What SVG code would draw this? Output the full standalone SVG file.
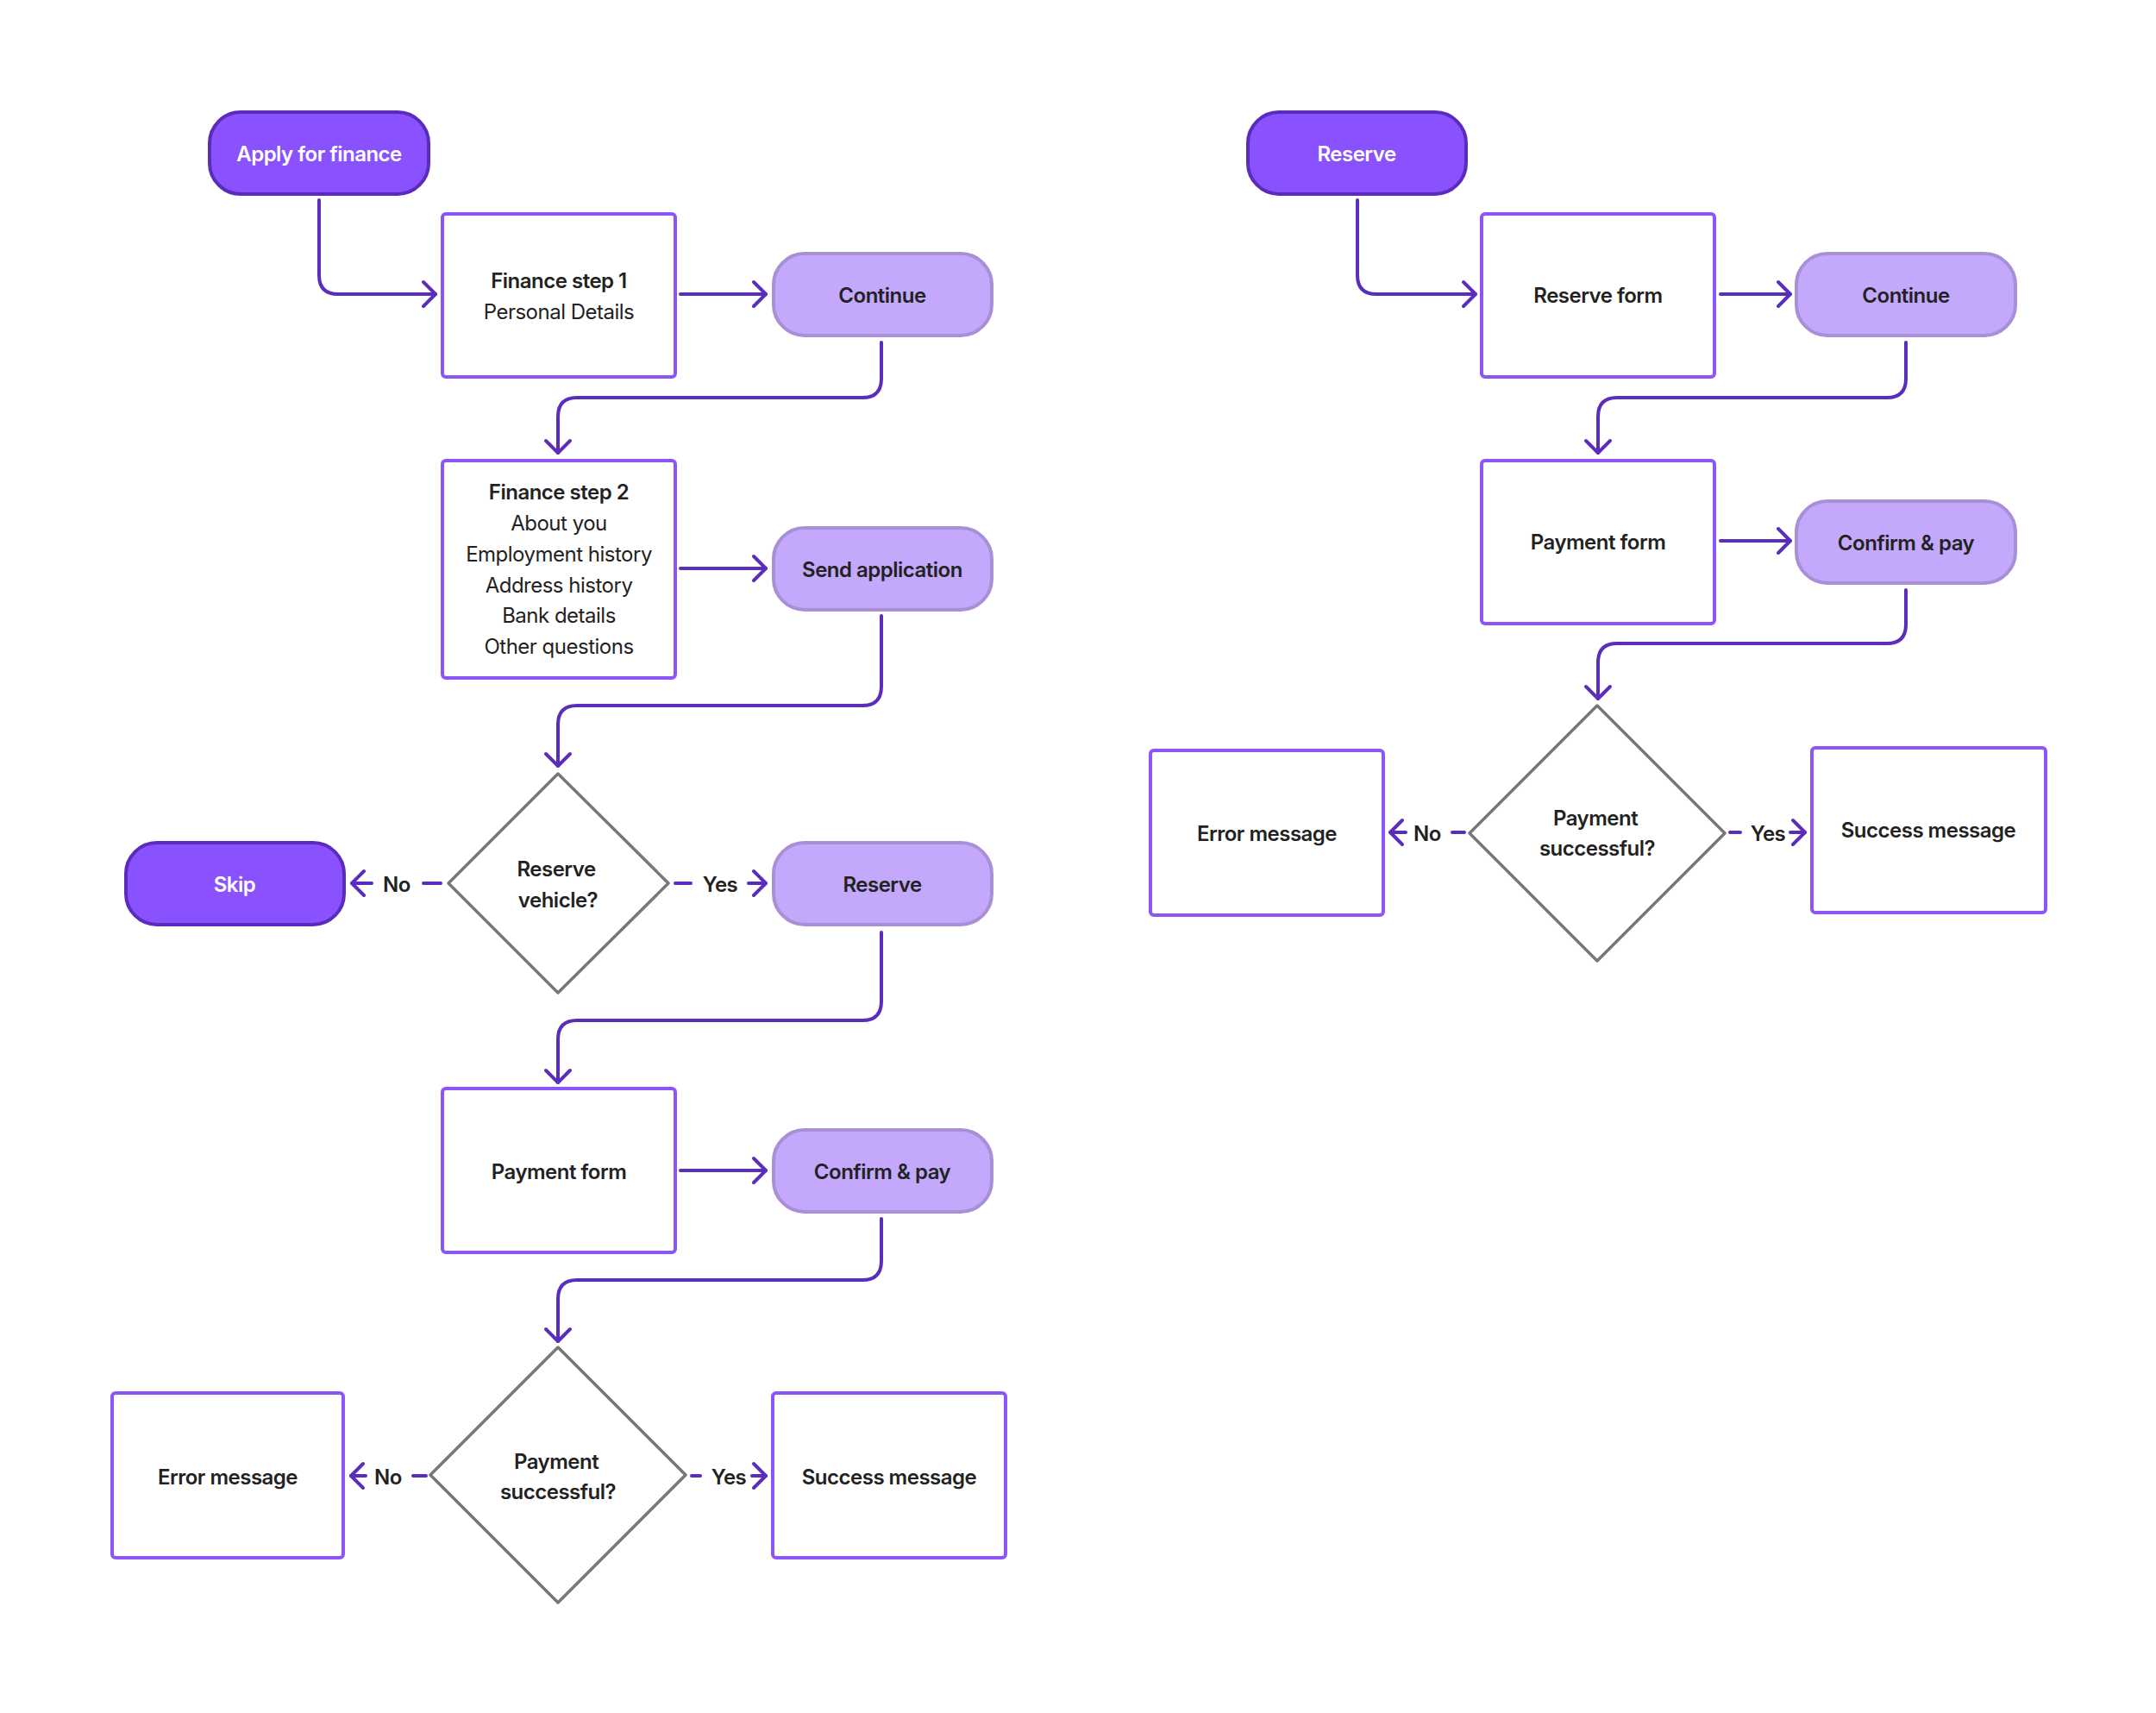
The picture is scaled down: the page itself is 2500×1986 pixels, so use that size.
<svg xmlns="http://www.w3.org/2000/svg" width="2500" height="1986" viewBox="0 0 2500 1986">
<defs>
<style>
text{font-family:Inter,"Noto Sans","Liberation Sans",sans-serif;font-size:24px;fill:#222;text-anchor:middle;letter-spacing:-0.5px}
.b{font-weight:600}
.w{fill:#fff;font-weight:600}
.start{fill:#8a52ff;stroke:#5a2bbd;stroke-width:4}
.act{fill:#c3a8fc;stroke:#a88fd6;stroke-width:4}
.box{fill:#fff;stroke:#8b55f8;stroke-width:4}
.dia{fill:#fff;stroke:#777;stroke-width:3.5;stroke-linejoin:round}
.c{fill:none;stroke:#5a2dbc;stroke-width:4;stroke-linecap:round;stroke-linejoin:round}
</style>
<marker id="ah" markerUnits="userSpaceOnUse" viewBox="-18 -18 24 36" markerWidth="24" markerHeight="36" refX="0" refY="0" orient="auto">
<path d="M-14,-14 L0,0 L-14,14" fill="none" stroke="#5a2dbc" stroke-width="4" stroke-linecap="round" stroke-linejoin="round"/>
</marker>
</defs>
<rect width="2500" height="1986" fill="#fff"/>

<g id="connectors">
<path class="c" marker-end="url(#ah)" d="M370,232 V319 Q370,341 392,341 H505"/>
<path class="c" marker-end="url(#ah)" d="M789,341 H888"/>
<path class="c" marker-end="url(#ah)" d="M1022,397 V439 Q1022,461 1000,461 H669 Q647,461 647,483 V525"/>
<path class="c" marker-end="url(#ah)" d="M789,659 H888"/>
<path class="c" marker-end="url(#ah)" d="M1022,714 V796 Q1022,818 1000,818 H669 Q647,818 647,840 V888"/>
<path class="c" d="M511,1024 H491"/>
<path class="c" marker-end="url(#ah)" d="M431,1024 H408"/>
<path class="c" d="M783,1024 H801"/>
<path class="c" marker-end="url(#ah)" d="M868,1024 H888"/>
<path class="c" marker-end="url(#ah)" d="M1022,1081 V1161 Q1022,1183 1000,1183 H669 Q647,1183 647,1205 V1255"/>
<path class="c" marker-end="url(#ah)" d="M789,1357 H888"/>
<path class="c" marker-end="url(#ah)" d="M1022,1413 V1462 Q1022,1484 1000,1484 H669 Q647,1484 647,1506 V1555"/>
<path class="c" d="M494,1711 H479"/>
<path class="c" marker-end="url(#ah)" d="M424,1711 H407"/>
<path class="c" d="M802,1711 H812"/>
<path class="c" marker-end="url(#ah)" d="M872,1711 H888"/>

<path class="c" marker-end="url(#ah)" d="M1574,232 V319 Q1574,341 1596,341 H1711"/>
<path class="c" marker-end="url(#ah)" d="M1995,341 H2076"/>
<path class="c" marker-end="url(#ah)" d="M2210,397 V439 Q2210,461 2188,461 H1875 Q1853,461 1853,483 V525"/>
<path class="c" marker-end="url(#ah)" d="M1995,627 H2076"/>
<path class="c" marker-end="url(#ah)" d="M2210,684 V724 Q2210,746 2188,746 H1875 Q1853,746 1853,768 V810"/>
<path class="c" d="M1698,965 H1684"/>
<path class="c" marker-end="url(#ah)" d="M1630,965 H1612"/>
<path class="c" d="M2006,965 H2018"/>
<path class="c" marker-end="url(#ah)" d="M2076,965 H2093"/>
</g>

<g id="labels">
<text class="b" x="460" y="1034">No</text>
<text class="b" x="835" y="1034">Yes</text>
<text class="b" x="450" y="1721">No</text>
<text class="b" x="845" y="1721">Yes</text>
<text class="b" x="1655" y="975">No</text>
<text class="b" x="2050" y="975">Yes</text>
</g>

<g id="apply-for-finance">
<rect class="start" x="243" y="130" width="254" height="95" rx="36"/>
<text class="w" x="370" y="187">Apply for finance</text>
</g>
<g id="finance-step-1">
<rect class="box" x="513" y="248" width="270" height="189" rx="4"/>
<text class="b" x="648" y="334">Finance step 1</text>
<text x="648" y="370">Personal Details</text>
</g>
<g id="continue-1">
<rect class="act" x="897" y="294" width="253" height="95" rx="36"/>
<text class="b" x="1023" y="351">Continue</text>
</g>
<g id="finance-step-2">
<rect class="box" x="513" y="534" width="270" height="252" rx="4"/>
<text class="b" x="648" y="579">Finance step 2</text>
<text x="648" y="615">About you</text>
<text x="648" y="651">Employment history</text>
<text x="648" y="687">Address history</text>
<text x="648" y="722">Bank details</text>
<text x="648" y="758">Other questions</text>
</g>
<g id="send-application">
<rect class="act" x="897" y="612" width="253" height="95" rx="36"/>
<text class="b" x="1023" y="669">Send application</text>
</g>
<g id="reserve-vehicle">
<polygon class="dia" points="647,897 775,1024 647,1151 520,1024"/>
<text class="b" x="645" y="1016">Reserve</text>
<text class="b" x="647" y="1052">vehicle?</text>
</g>
<g id="skip">
<rect class="start" x="146" y="977" width="253" height="95" rx="36"/>
<text class="w" x="272" y="1034">Skip</text>
</g>
<g id="reserve-1">
<rect class="act" x="897" y="977" width="253" height="95" rx="36"/>
<text class="b" x="1023" y="1034">Reserve</text>
</g>
<g id="payment-form-1">
<rect class="box" x="513" y="1262" width="270" height="190" rx="4"/>
<text class="b" x="648" y="1367">Payment form</text>
</g>
<g id="confirm-pay-1">
<rect class="act" x="897" y="1310" width="253" height="95" rx="36"/>
<text class="b" x="1023" y="1367">Confirm &amp; pay</text>
</g>
<g id="payment-successful-1">
<polygon class="dia" points="647,1562 795,1710 647,1858 499,1710"/>
<text class="b" x="645" y="1703">Payment</text>
<text class="b" x="647" y="1738">successful?</text>
</g>
<g id="error-message-1">
<rect class="box" x="130" y="1615" width="268" height="191" rx="4"/>
<text class="b" x="264" y="1721">Error message</text>
</g>
<g id="success-message-1">
<rect class="box" x="896" y="1615" width="270" height="191" rx="4"/>
<text class="b" x="1031" y="1721">Success message</text>
</g>

<g id="reserve-2">
<rect class="start" x="1447" y="130" width="253" height="95" rx="36"/>
<text class="w" x="1573" y="187">Reserve</text>
</g>
<g id="reserve-form">
<rect class="box" x="1718" y="248" width="270" height="189" rx="4"/>
<text class="b" x="1853" y="351">Reserve form</text>
</g>
<g id="continue-2">
<rect class="act" x="2083" y="294" width="254" height="95" rx="36"/>
<text class="b" x="2210" y="351">Continue</text>
</g>
<g id="payment-form-2">
<rect class="box" x="1718" y="534" width="270" height="189" rx="4"/>
<text class="b" x="1853" y="637">Payment form</text>
</g>
<g id="confirm-pay-2">
<rect class="act" x="2083" y="581" width="254" height="95" rx="36"/>
<text class="b" x="2210" y="638">Confirm &amp; pay</text>
</g>
<g id="payment-successful-2">
<polygon class="dia" points="1852,818 2000,966 1852,1114 1704,966"/>
<text class="b" x="1850" y="957">Payment</text>
<text class="b" x="1852" y="992">successful?</text>
</g>
<g id="error-message-2">
<rect class="box" x="1334" y="870" width="270" height="191" rx="4"/>
<text class="b" x="1469" y="975">Error message</text>
</g>
<g id="success-message-2">
<rect class="box" x="2101" y="867" width="271" height="191" rx="4"/>
<text class="b" x="2236" y="971">Success message</text>
</g>
</svg>
